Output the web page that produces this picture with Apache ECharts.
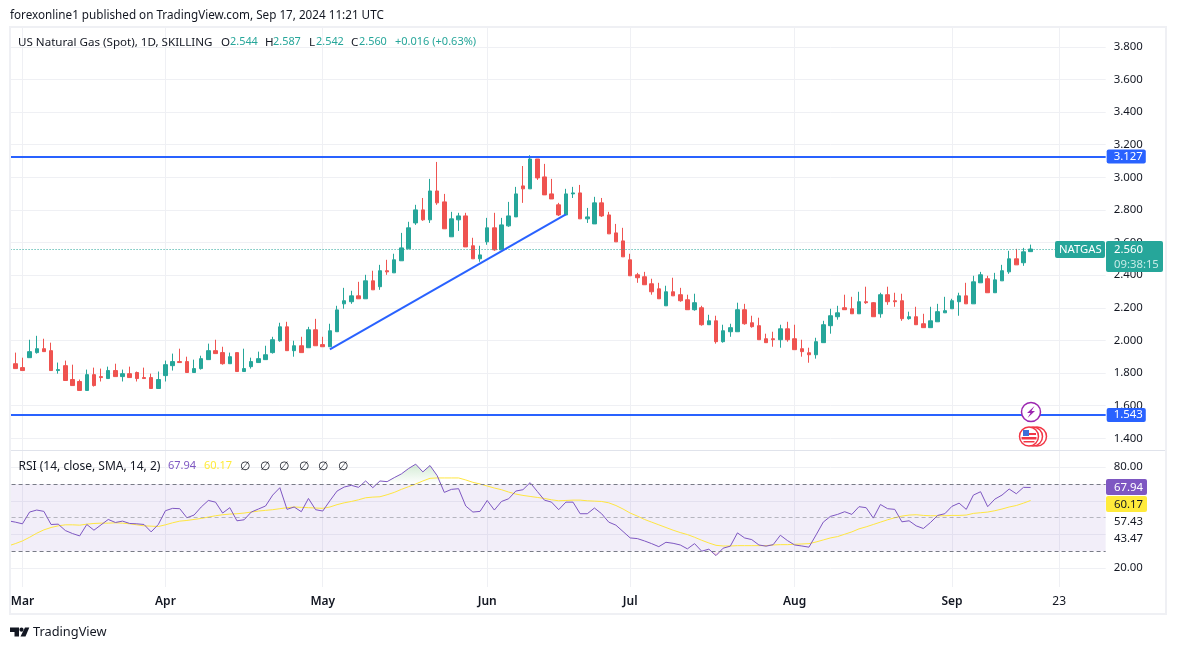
<!DOCTYPE html>
<html>
<head>
<meta charset="utf-8">
<title>US Natural Gas (Spot)</title>
<script src="https://cdn.jsdelivr.net/npm/echarts@6/dist/echarts.min.js"></script>
<style>
	html, body { margin: 0; padding: 0; background: #fff; }
	#chart { width: 1177px; height: 650px; }
</style>
</head>
<body>
<div id="chart"></div>
<script>
var categories = [
	'02-28','02-29',
	'03-01','03-04','03-05','03-06','03-07','03-08','03-11','03-12','03-13','03-14','03-15','03-18','03-19','03-20','03-21','03-22','03-25','03-26','03-27','03-28',
	'04-01','04-02','04-03','04-04','04-05','04-08','04-09','04-10','04-11','04-12','04-15','04-16','04-17','04-18','04-19','04-22','04-23','04-24','04-25','04-26','04-29','04-30',
	'05-01','05-02','05-03','05-06','05-07','05-08','05-09','05-10','05-13','05-14','05-15','05-16','05-17','05-20','05-21','05-22','05-23','05-24','05-27','05-28','05-29','05-30','05-31',
	'06-03','06-04','06-05','06-06','06-07','06-10','06-11','06-12','06-13','06-14','06-17','06-18','06-19','06-20','06-21','06-24','06-25','06-26','06-27','06-28',
	'07-01','07-02','07-03','07-04','07-05','07-08','07-09','07-10','07-11','07-12','07-15','07-16','07-17','07-18','07-19','07-22','07-23','07-24','07-25','07-26','07-29','07-30','07-31',
	'08-01','08-02','08-05','08-06','08-07','08-08','08-09','08-12','08-13','08-14','08-15','08-16','08-19','08-20','08-21','08-22','08-23','08-26','08-27','08-28','08-29','08-30',
	'09-02','09-03','09-04','09-05','09-06','09-09','09-10','09-11','09-12','09-13','09-16','09-17','09-18','09-19','09-20','09-23','09-24','09-25','09-26','09-27','09-30',
	'10-01'
];
var timeTicks = { '03-01': 'Mar', '04-01': 'Apr', '05-01': 'May', '06-03': 'Jun', '07-01': 'Jul', '08-01': 'Aug', '09-02': 'Sep', '09-23': '23' };

// the first category (02-28) is cut off by the pane edge, it only carries the rsi lines
var openPrices = [
	'-',
	1.857,1.833,1.894,1.925,1.949,1.937,1.815,1.845,1.760,1.748,
	1.693,1.790,1.778,1.766,1.815,1.778,1.796,1.803,1.772,1.772,
	1.705,1.784,1.845,1.870,1.870,1.803,1.827,1.882,1.937,1.925,
	1.857,1.925,1.809,1.839,1.864,1.882,1.925,1.998,2.083,1.937,
	1.967,1.955,2.065,1.974,1.961,2.053,2.224,2.237,2.273,2.255,
	2.365,2.329,2.427,2.414,2.488,2.561,2.720,2.800,2.739,2.916,
	2.849,2.635,2.739,2.763,2.580,2.500,2.604,2.690,2.555,2.702,
	2.757,2.947,2.929,3.112,3.002,2.898,2.831,2.769,2.898,2.904,
	2.745,2.714,2.843,2.769,2.659,2.610,2.494,2.402,2.390,2.347,
	2.316,2.212,2.298,2.280,2.249,2.188,2.200,2.096,2.120,1.992,
	2.053,2.053,2.188,2.108,2.090,2.010,2.010,2.004,2.071,2.010,
	1.949,1.924,1.912,1.986,2.090,2.145,2.200,2.194,2.163,2.237,
	2.231,2.163,2.280,2.243,2.243,2.133,2.145,2.102,2.078,2.114,
	2.169,2.194,2.237,2.273,2.224,2.353,2.378,2.292,2.365,2.420,
	2.500,2.476,2.544
];
var closePrices = [
	'-',
	1.827,1.815,1.931,1.949,1.931,1.815,1.821,1.754,1.723,1.693,
	1.790,1.723,1.772,1.815,1.778,1.796,1.772,1.766,1.766,1.705,
	1.760,1.851,1.870,1.864,1.803,1.827,1.888,1.937,1.919,1.857,
	1.900,1.809,1.827,1.870,1.888,1.912,2.004,2.083,1.937,1.967,
	1.925,2.065,1.967,1.961,2.059,2.187,2.243,2.273,2.255,2.365,
	2.310,2.427,2.420,2.494,2.567,2.690,2.800,2.739,2.916,2.843,
	2.684,2.745,2.763,2.573,2.500,2.524,2.690,2.555,2.708,2.763,
	2.898,2.929,3.112,2.996,2.892,2.867,2.769,2.898,2.904,2.745,
	2.757,2.843,2.763,2.653,2.604,2.512,2.396,2.384,2.341,2.298,
	2.255,2.298,2.273,2.243,2.188,2.231,2.096,2.120,1.992,2.059,
	2.078,2.188,2.102,2.084,2.004,1.986,2.004,2.071,2.004,1.943,
	1.931,1.912,1.992,2.096,2.151,2.169,2.188,2.163,2.237,2.231,
	2.145,2.280,2.237,2.237,2.133,2.145,2.096,2.078,2.120,2.176,
	2.182,2.243,2.273,2.224,2.359,2.402,2.292,2.371,2.427,2.500,
	2.463,2.543,2.560
];
var lowPrices = [
	'-',
	1.827,1.815,1.894,1.919,1.931,1.815,1.796,1.754,1.723,1.693,
	1.693,1.717,1.748,1.766,1.778,1.748,1.772,1.748,1.766,1.705,
	1.705,1.748,1.815,1.864,1.803,1.803,1.821,1.882,1.919,1.851,
	1.857,1.809,1.809,1.827,1.864,1.882,1.919,1.992,1.937,1.900,
	1.925,1.955,1.967,1.961,1.961,2.053,2.194,2.224,2.255,2.255,
	2.310,2.310,2.402,2.414,2.488,2.561,2.708,2.733,2.720,2.831,
	2.684,2.635,2.671,2.573,2.500,2.482,2.586,2.549,2.555,2.696,
	2.757,2.843,2.929,2.984,2.892,2.867,2.763,2.769,2.873,2.745,
	2.720,2.714,2.757,2.653,2.604,2.512,2.396,2.353,2.341,2.280,
	2.255,2.212,2.273,2.237,2.188,2.182,2.090,2.096,1.980,1.986,
	2.022,2.053,2.096,2.078,2.004,1.986,1.961,1.955,1.992,1.943,
	1.900,1.863,1.888,1.986,2.041,2.127,2.188,2.163,2.163,2.224,
	2.145,2.139,2.218,2.206,2.120,2.127,2.096,2.078,2.078,2.114,
	2.169,2.194,2.151,2.224,2.224,2.353,2.292,2.292,2.365,2.408,
	2.463,2.457,2.542
];
var highPrices = [
	'-',
	1.925,1.894,2.004,2.028,2.010,1.986,1.864,1.876,1.851,1.760,
	1.821,1.833,1.827,1.839,1.857,1.821,1.839,1.809,1.833,1.796,
	1.809,1.876,1.919,1.949,1.900,1.882,1.906,1.980,2.004,1.961,
	1.925,1.925,1.949,1.894,1.931,1.967,2.022,2.108,2.114,1.998,
	2.022,2.083,2.132,2.022,2.102,2.212,2.322,2.304,2.359,2.402,
	2.427,2.463,2.494,2.531,2.659,2.727,2.831,2.873,2.990,3.094,
	2.898,2.788,2.782,2.782,2.629,2.580,2.751,2.782,2.751,2.849,
	2.941,3.069,3.135,3.112,3.082,2.990,2.843,2.929,2.941,2.953,
	2.812,2.880,2.873,2.788,2.714,2.690,2.531,2.414,2.420,2.378,
	2.353,2.335,2.384,2.322,2.280,2.286,2.212,2.157,2.151,2.096,
	2.102,2.231,2.224,2.151,2.139,2.041,2.053,2.096,2.114,2.096,
	2.004,1.955,2.016,2.120,2.194,2.212,2.280,2.267,2.298,2.329,
	2.235,2.292,2.329,2.292,2.286,2.176,2.206,2.163,2.206,2.224,
	2.267,2.255,2.292,2.353,2.396,2.420,2.396,2.414,2.463,2.549,
	2.561,2.567,2.587
];
var rsiValues = [
	48.1,
	47.3,46.3,53.3,54.5,53.7,45.9,46.1,42.3,40.5,39.1,
	45.9,42.5,45.7,48.9,47.1,47.9,46.5,46.3,45.9,41.5,
	45.9,54.1,55.5,55.3,49.9,51.5,56.3,60.2,59.2,52.7,
	55.9,48.1,48.7,53.3,55.1,56.9,63.4,67.8,54.9,56.3,
	53.5,61.4,54.7,53.9,60.0,65.8,68.2,69.2,68.0,71.8,
	67.8,71.8,71.4,73.8,76.0,79.2,81.8,77.2,81.0,75.0,
	65.0,66.8,67.2,56.9,53.3,53.7,60.2,54.5,59.6,61.2,
	65.8,66.6,70.8,65.6,60.4,59.2,54.7,59.2,59.2,52.3,
	52.3,55.7,52.3,47.3,45.5,41.7,37.9,37.5,36.1,34.5,
	32.7,35.3,34.7,33.7,31.4,34.5,30.0,31.2,27.4,31.8,
	33.0,40.9,37.9,36.9,33.7,33.0,33.9,39.5,36.3,33.7,
	33.1,32.4,39.7,47.3,50.7,51.9,53.5,51.9,56.5,55.9,
	49.7,57.8,55.3,54.9,47.5,48.1,45.1,43.5,47.1,51.3,
	52.3,56.7,58.6,54.9,63.4,65.4,56.5,61.0,63.4,67.0,
	64.2,68.0,67.94
];
var rsiAverage = [
	33.1,
	34.5,36.1,38.3,40.7,42.7,44.1,45.1,45.7,45.7,45.5,
	46.1,46.5,46.7,46.7,46.9,46.7,46.3,45.7,45.1,44.9,
	44.7,45.7,46.9,47.9,48.3,48.9,49.5,50.3,51.1,51.7,
	52.1,52.3,52.7,53.3,53.9,54.3,54.7,55.3,55.9,56.3,
	56.1,55.9,55.7,55.5,56.3,57.7,58.8,59.6,60.6,61.8,
	62.2,62.4,63.6,65.0,66.8,68.4,70.0,71.8,73.4,73.6,
	73.6,73.6,73.6,72.4,71.0,70.0,68.8,67.6,66.6,65.2,
	64.0,63.2,62.6,62.0,61.4,60.6,60.0,60.2,60.4,60.4,
	60.0,59.8,59.6,58.8,57.2,55.1,52.7,50.9,48.9,47.3,
	45.7,44.1,42.5,41.1,39.9,38.3,36.5,34.9,33.5,33.1,
	33.1,33.3,33.3,33.3,33.3,33.3,33.7,33.9,33.9,34.1,
	34.3,34.5,35.5,36.7,37.9,38.7,40.1,41.5,43.3,44.5,
	45.9,47.3,48.7,49.9,50.9,51.5,51.7,51.3,51.1,51.1,
	51.1,51.3,51.3,51.5,52.5,52.9,53.3,54.1,55.1,56.3,
	57.2,58.6,60.17
];
var priceTicks = [1.4, 1.6, 1.8, 2.0, 2.2, 2.4, 2.6, 2.8, 3.0, 3.2, 3.4, 3.6, 3.8];
var rsiGridTicks = [20, 40, 60, 80];
var rsiLabelTicks = [20, 80];
var supportLevels = [3.127, 1.543];
var lastPrice = 2.56;
var trendStart = [45, 1.945];
var trendEnd = [78, 2.772];

var FONT = '"Noto Sans", sans-serif';
var TEXT = '#131722';
var GRID = '#eff0f4';
var UP = '#26a69a';
var DOWN = '#ef5350';
var BLUE = '#2962ff';
var PURPLE = '#7e57c2';
var YELLOW = '#ffeb3b';

var candleData = [];
for (var i = 0; i < openPrices.length; i++) {
	candleData.push([openPrices[i], closePrices[i], lowPrices[i], highPrices[i]]);
}

// only the part of the rsi outside the band gets the gradient
function clipRsi(limit, above) {
	return rsiValues.map(function(v) {
		return above ? Math.max(v, limit) : Math.min(v, limit);
	});
}

function isTimeTick(index, value) {
	return timeTicks[value] !== undefined;
}

function txt(x, y, text, color, size, extra) {
	var style = {
		x: x, y: y + 0.8, text: text, fill: color || TEXT,
		font: (size || 12) + 'px ' + FONT, textVerticalAlign: 'middle'
	};
	if (extra) { style.textAlign = extra; }
	return { type: 'text', z: 120, silent: true, style: style };
}

function box(x, y, w, h, color) {
	return { type: 'rect', z: 110, silent: true, shape: { x: x, y: y, width: w, height: h, r: 2 }, style: { fill: color } };
}

var graphics = [
	// white strip hides what sticks out left of the pane
	{ type: 'rect', z: 50, silent: true, shape: { x: 0, y: 20, width: 9.5, height: 600 }, style: { fill: '#fff' } },
	{ type: 'rect', z: 51, silent: true, shape: { x: 10, y: 27, width: 1156, height: 587 }, style: { fill: 'none', stroke: GRID, lineWidth: 2 } },
	{ type: 'line', z: 1, silent: true, shape: { x1: 10, y1: 450.5, x2: 1166, y2: 450.5 }, style: { stroke: '#e0e3eb', lineWidth: 1 } },

	txt(10, 14.5, 'forexonline1 published on TradingView.com, Sep 17, 2024 11:21 UTC', TEXT, 11.7),

	txt(18, 41.5, 'US Natural Gas (Spot), 1D, SKILLING', TEXT, 11.6),
	txt(221, 41.5, 'O', TEXT, 11.6), txt(230, 41.5, '2.544', UP, 10.9),
	txt(265, 41.5, 'H', TEXT, 11.6), txt(273, 41.5, '2.587', UP, 10.9),
	txt(309, 41.5, 'L', TEXT, 11.6), txt(316, 41.5, '2.542', UP, 10.9),
	txt(351, 41.5, 'C', TEXT, 11.6), txt(359, 41.5, '2.560', UP, 10.9),
	txt(395, 41.5, '+0.016 (+0.63%)', UP, 11),

	txt(18.5, 465.5, 'RSI (14, close, SMA, 14, 2)'),
	txt(168, 465.5, '67.94', PURPLE, 11),
	txt(204, 465.5, '60.17', YELLOW, 11),
	txt(245, 465.5, '∅', TEXT, 12, 'center'), txt(265, 465.5, '∅', TEXT, 12, 'center'), txt(284, 465.5, '∅', TEXT, 12, 'center'),
	txt(304, 465.5, '∅', TEXT, 12, 'center'), txt(323, 465.5, '∅', TEXT, 12, 'center'), txt(343, 465.5, '∅', TEXT, 12, 'center'),

	box(1055, 241, 50, 17, UP),
	txt(1059, 249, 'NATGAS', '#fff', 11.3),
	box(1106, 241, 57, 31, UP),
	txt(1114, 249, '2.560', '#fff', 11.4),
	txt(1114, 263.5, '09:38:15', '#c6ebe7', 11.3),

	box(1106, 479, 41, 16, PURPLE),
	txt(1114, 486.5, '67.94', '#fff', 11.4),
	box(1106, 496, 41, 16, YELLOW),
	txt(1114, 503.5, '60.17', TEXT, 11.4),
	txt(1114, 521, '57.43', TEXT, 11.4),
	txt(1114, 538, '43.47', TEXT, 11.4),

	// event marks on the time line
	{ type: 'circle', z: 110, silent: true, shape: { cx: 1031, cy: 412, r: 9.5 }, style: { fill: '#fff', stroke: '#9c27b0', lineWidth: 1.5 } },
	{ type: 'polygon', z: 111, silent: true, shape: { points: [[1034.5, 406], [1027, 413], [1030.5, 413], [1027.5, 418], [1035, 411], [1031.5, 411]] }, style: { fill: '#9c27b0' } },
	{ type: 'circle', z: 110, silent: true, shape: { cx: 1037, cy: 436.5, r: 9.5 }, style: { fill: '#fff', stroke: '#f23645', lineWidth: 1.5 } },
	{ type: 'circle', z: 111, silent: true, shape: { cx: 1033, cy: 436.5, r: 9.5 }, style: { fill: '#fff', stroke: '#f23645', lineWidth: 1.5 } },
	{ type: 'circle', z: 112, silent: true, shape: { cx: 1029, cy: 436.5, r: 9.5 }, style: { fill: '#fff', stroke: '#f23645', lineWidth: 1.5 } },
	{ type: 'rect', z: 113, silent: true, shape: { x: 1023, y: 430, width: 6, height: 6 }, style: { fill: '#3d6fd9' } },
	{ type: 'rect', z: 113, silent: true, shape: { x: 1029, y: 433, width: 7, height: 2 }, style: { fill: '#f23645' } },
	{ type: 'rect', z: 113, silent: true, shape: { x: 1021.5, y: 437, width: 15, height: 2.5 }, style: { fill: '#f23645' } },
	{ type: 'rect', z: 113, silent: true, shape: { x: 1023.5, y: 441, width: 11, height: 1.5 }, style: { fill: '#f23645' } },

	{ type: 'polygon', z: 110, silent: true, shape: { points: [[10, 627.5], [19, 627.5], [19, 636.5], [14.5, 636.5], [14.5, 632], [10, 632]] }, style: { fill: TEXT } },
	{ type: 'circle', z: 110, silent: true, shape: { cx: 21.5, cy: 629.7, r: 2.1 }, style: { fill: TEXT } },
	{ type: 'polygon', z: 110, silent: true, shape: { points: [[25, 627.5], [29.3, 627.5], [25.5, 636.5], [20.5, 636.5]] }, style: { fill: TEXT } },
	txt(33, 632, 'TradingView', TEXT, 12.8)
];

function levelLine(value) {
	return {
		yAxis: value,
		lineStyle: { color: BLUE, width: 2, type: 'solid' },
		label: {
			show: true, position: 'end', distance: 1, formatter: value.toFixed(3),
			color: '#fff', backgroundColor: BLUE, padding: [2, 3, 1, 7], borderRadius: 2,
			fontFamily: FONT, fontSize: 11.4
		}
	};
}

var timeAxisBase = {
	type: 'category',
	data: categories,
	boundaryGap: true,
	axisLine: { show: false },
	axisTick: { show: false },
	splitLine: { show: true, interval: isTimeTick, alignWithLabel: true, lineStyle: { color: GRID, width: 1 } }
};

var option = {
	animation: false,
	backgroundColor: '#fff',
	textStyle: { fontFamily: FONT },
	grid: [
		{ left: 4.575, width: 1101.1, top: 28, height: 422 },
		{ left: 4.575, width: 1101.1, top: 451, height: 136 }
	],
	xAxis: [
		Object.assign({}, timeAxisBase, { gridIndex: 0, axisLabel: { show: false } }),
		Object.assign({}, timeAxisBase, {
			gridIndex: 1,
			axisLabel: {
				show: true, interval: isTimeTick, margin: 9, hideOverlap: false,
				color: TEXT, fontFamily: FONT, fontSize: 12, fontWeight: 600,
				formatter: function(value) {
					return value === '09-23' ? '{n|23}' : timeTicks[value];
				},
				rich: { n: { fontWeight: 400, fontSize: 12, fontFamily: FONT, color: TEXT } }
			}
		})
	],
	yAxis: [
		{
			type: 'value', gridIndex: 0, position: 'right', min: 1.328, max: 3.915, scale: true,
			axisLine: { show: false },
			axisTick: { show: false, customValues: priceTicks },
			splitLine: { show: true, lineStyle: { color: GRID, width: 1 } },
			axisLabel: {
				customValues: priceTicks, margin: 8, padding: [4, 0, 0, 0], color: TEXT, fontFamily: FONT, fontSize: 11.4,
				formatter: function(v) { return v.toFixed(3); }
			}
		},
		{
			type: 'value', gridIndex: 1, position: 'right', min: 8.69, max: 89.64, scale: true,
			axisLine: { show: false },
			axisTick: { show: false, customValues: rsiGridTicks },
			splitLine: { show: true, lineStyle: { color: GRID, width: 1 } },
			axisLabel: {
				customValues: rsiLabelTicks, margin: 8, padding: [4, 0, 0, 0], color: TEXT, fontFamily: FONT, fontSize: 11.4,
				formatter: function(v) { return v.toFixed(2); }
			}
		}
	],
	series: [
		{
			name: 'NATGAS',
			type: 'candlestick',
			xAxisIndex: 0,
			yAxisIndex: 0,
			data: candleData,
			barWidth: 4,
			itemStyle: { color: UP, color0: DOWN, borderColor: UP, borderColor0: DOWN, borderWidth: 1 },
			markLine: {
				silent: true,
				symbol: 'none',
				animation: false,
				precision: 3,
				data: [
					{
						yAxis: lastPrice,
						lineStyle: { color: UP, width: 1, type: [1, 2] },
						label: { show: false }
					},
					levelLine(supportLevels[0]),
					levelLine(supportLevels[1]),
					[
						{ xAxis: categories[trendStart[0]], yAxis: trendStart[1], lineStyle: { color: BLUE, width: 2, type: 'solid' }, label: { show: false } },
						{ xAxis: categories[trendEnd[0]], yAxis: trendEnd[1] }
					]
				]
			}
		},
		{
			name: 'RSI',
			type: 'line',
			xAxisIndex: 1,
			yAxisIndex: 1,
			data: rsiValues,
			symbol: 'none',
			z: 4,
			lineStyle: { color: PURPLE, width: 1 },
			markArea: {
				silent: true,
				itemStyle: { color: 'rgba(126,87,194,0.1)' },
				data: [[{ yAxis: 70 }, { yAxis: 30 }]]
			},
			markLine: {
				silent: true,
				symbol: 'none',
				animation: false,
				label: { show: false },
				data: [
					{ yAxis: 70, lineStyle: { color: '#787b86', width: 1, type: [4, 3] } },
					{ yAxis: 50, lineStyle: { color: 'rgba(120,123,134,0.5)', width: 1, type: [4, 3] } },
					{ yAxis: 30, lineStyle: { color: '#787b86', width: 1, type: [4, 3] } }
				]
			}
		},
		{
			name: 'RSI MA',
			type: 'line',
			xAxisIndex: 1,
			yAxisIndex: 1,
			data: rsiAverage,
			symbol: 'none',
			z: 3,
			lineStyle: { color: '#ffe640', width: 1 }
		},
		{
			name: 'Overbought',
			type: 'line',
			xAxisIndex: 1,
			yAxisIndex: 1,
			data: clipRsi(70, true),
			symbol: 'none',
			z: 2,
			lineStyle: { width: 0 },
			areaStyle: {
				origin: 70,
				color: {
					type: 'linear', x: 0, y: 0, x2: 0, y2: 1,
					colorStops: [{ offset: 0, color: 'rgba(76,175,80,0.35)' }, { offset: 1, color: 'rgba(76,175,80,0)' }]
				}
			}
		},
		{
			name: 'Oversold',
			type: 'line',
			xAxisIndex: 1,
			yAxisIndex: 1,
			data: clipRsi(30, false),
			symbol: 'none',
			z: 2,
			lineStyle: { width: 0 },
			areaStyle: {
				origin: 30,
				color: {
					type: 'linear', x: 0, y: 0, x2: 0, y2: 1,
					colorStops: [{ offset: 0, color: 'rgba(242,54,69,0)' }, { offset: 1, color: 'rgba(242,54,69,0.35)' }]
				}
			}
		}
	],
	graphic: graphics
};

var myChart = echarts.init(document.getElementById('chart'), null, { renderer: 'canvas' });
myChart.setOption(option);
</script>
</body>
</html>
